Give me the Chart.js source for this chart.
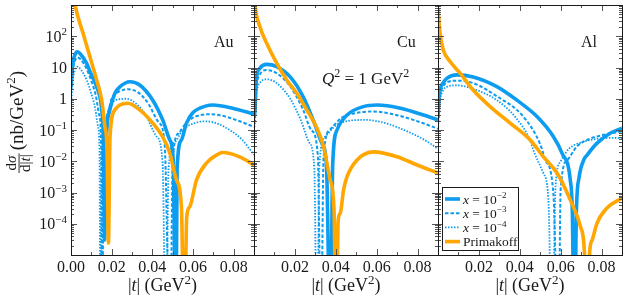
<!DOCTYPE html>
<html>
<head>
<meta charset="utf-8">
<script src="https://cdn.jsdelivr.net/npm/chart.js@4.4.1/dist/chart.umd.min.js"></script>
<style>
    html, body { margin: 0; padding: 0; background: #fff; }
    #wrap { position: relative; width: 625px; height: 302px; }
    #wrap canvas { position: absolute; left: 0; top: 0; }
</style>
</head>
<body>
<div id="wrap">
    <canvas id="panel0" width="625" height="302"></canvas>
    <canvas id="panel1" width="625" height="302"></canvas>
    <canvas id="panel2" width="625" height="302"></canvas>
</div>
<script>
const SERIF = '"Liberation Serif", "DejaVu Serif", serif';
const AZUL = '#0c9cf0';
const NARANJA = '#ffa600';

// Ejes y etiquetas
const yTickValues = [1e-4, 1e-3, 1e-2, 1e-1, 1, 10, 100];
const yTickLabels = ['10^{−4}', '10^{−3}', '10^{−2}', '10^{−1}', '1', '10', '10^{2}'];
const xTicksFirst = [0, 0.02, 0.04, 0.06, 0.08];
const xTicksRest = [0.02, 0.04, 0.06, 0.08];
const panelNames = ['Au', 'Cu', 'Al'];
const seriesLabels = ['$x$ = 10^{−2}', '$x$ = 10^{−3}', '$x$ = 10^{−4}', 'Primakoff'];

// Au: pares [|t|, dσ/d|t|]
const auX2 = [[0, 2.4], [0.0005, 7], [0.001, 15], [0.002, 26], [0.003, 32], [0.0044, 28], [0.0077, 13.5], [0.0098, 6.3], [0.0126, 2.4], [0.0151, 0.44], [0.0159, 0.05], [0.0165, 3e-5], [0.0172, 0.03], [0.0191, 0.44], [0.0216, 1.5], [0.024, 2.4], [0.029, 3.5], [0.0338, 2.75], [0.0402, 0.9], [0.0451, 0.21], [0.0486, 0.048], [0.0503, 0.01], [0.0515, 1e-8], [0.0522, 0.006], [0.0543, 0.048], [0.0568, 0.166], [0.0598, 0.35], [0.0666, 0.59], [0.0697, 0.63], [0.0795, 0.5], [0.09, 0.32]];
const auX3 = [[0, 1.4], [0.0005, 4], [0.001, 9], [0.002, 16.6], [0.003, 21], [0.0044, 19], [0.0077, 9], [0.0098, 4], [0.0122, 1.26], [0.0138, 0.32], [0.0148, 0.04], [0.0154, 1e-8], [0.016, 0.025], [0.0175, 0.25], [0.02, 1.0], [0.023, 1.6], [0.028, 2.0], [0.033, 1.6], [0.038, 0.7], [0.043, 0.18], [0.046, 0.04], [0.0488, 1e-8], [0.05, 0.01], [0.053, 0.08], [0.057, 0.18], [0.062, 0.28], [0.068, 0.32], [0.075, 0.28], [0.082, 0.2], [0.09, 0.126]];
const auX4 = [[0, 0.63], [0.0005, 2], [0.001, 4.5], [0.002, 8.5], [0.003, 10.7], [0.0044, 9.3], [0.0077, 4], [0.0098, 1.6], [0.012, 0.45], [0.0133, 0.126], [0.014, 0.025], [0.0145, 1e-8], [0.0152, 0.02], [0.0168, 0.2], [0.019, 0.56], [0.022, 0.9], [0.027, 1.0], [0.032, 0.7], [0.037, 0.28], [0.042, 0.063], [0.045, 0.01], [0.0467, 1e-8], [0.048, 0.0063], [0.051, 0.04], [0.055, 0.1], [0.06, 0.16], [0.066, 0.19], [0.072, 0.16], [0.078, 0.1], [0.084, 0.05], [0.09, 0.016]];
const auPrim = [[0, 8000], [0.002, 1000], [0.0059, 126], [0.0093, 22], [0.0126, 4], [0.0151, 0.9], [0.0167, 0.126], [0.0177, 0.025], [0.0184, 2.4e-5], [0.0192, 0.063], [0.0216, 0.44], [0.024, 0.63], [0.028, 0.72], [0.0338, 0.44], [0.0402, 0.166], [0.0451, 0.06], [0.0486, 0.018], [0.0519, 0.0025], [0.0543, 3.5e-4], [0.0557, 1e-8], [0.0569, 1.6e-4], [0.0584, 3.5e-4], [0.0617, 0.0025], [0.0666, 0.0087], [0.0731, 0.018], [0.0746, 0.019], [0.0829, 0.0138], [0.09, 0.0076]];

// Cu
const cuX2 = [[0, 0.25], [0.0005, 0.44], [0.0009, 2.2], [0.0013, 5], [0.0029, 9.5], [0.0062, 12.6], [0.0111, 10.7], [0.0177, 5], [0.024, 1.17], [0.0289, 0.21], [0.0332, 0.038], [0.0355, 0.006], [0.0373, 1e-8], [0.0385, 0.008], [0.0406, 0.1], [0.0455, 0.3], [0.0535, 0.56], [0.0602, 0.63], [0.0716, 0.5], [0.0829, 0.3], [0.09, 0.21]];
const cuX3 = [[0, 0.16], [0.0005, 0.3], [0.0009, 1.3], [0.0013, 2.8], [0.0029, 6], [0.0062, 8.3], [0.011, 6.6], [0.0177, 2.5], [0.024, 0.45], [0.028, 0.1], [0.0312, 0.016], [0.0328, 1e-8], [0.034, 0.012], [0.037, 0.1], [0.043, 0.25], [0.05, 0.35], [0.058, 0.39], [0.068, 0.32], [0.079, 0.2], [0.09, 0.11]];
const cuX4 = [[0, 0.1], [0.0005, 0.2], [0.0009, 0.7], [0.0013, 1.6], [0.0029, 3.2], [0.0062, 4.2], [0.011, 3.2], [0.0177, 1.0], [0.023, 0.2], [0.027, 0.04], [0.0295, 0.006], [0.0308, 1e-8], [0.032, 0.008], [0.035, 0.063], [0.04, 0.14], [0.047, 0.2], [0.055, 0.21], [0.065, 0.16], [0.075, 0.09], [0.083, 0.05], [0.09, 0.025]];
const cuPrim = [[0, 3000], [0.0005, 1000], [0.0029, 200], [0.0062, 60], [0.0111, 13.8], [0.016, 4], [0.0209, 1.5], [0.0258, 0.44], [0.0308, 0.115], [0.034, 0.03], [0.0373, 0.0025], [0.0392, 2.2e-4], [0.0401, 1e-8], [0.0412, 1.3e-4], [0.0422, 2.2e-4], [0.0438, 0.0012], [0.0455, 0.0032], [0.0504, 0.011], [0.0584, 0.02], [0.07, 0.014], [0.0798, 0.0076], [0.09, 0.0042]];

// Al
const alX2 = [[0, 0.25], [0.0004, 0.8], [0.001, 1.9], [0.0025, 3.2], [0.0043, 4.5], [0.0092, 5.8], [0.0172, 5], [0.0288, 2.45], [0.0386, 0.9], [0.0484, 0.27], [0.0564, 0.062], [0.0607, 0.018], [0.0647, 0.0025], [0.0657, 2.5e-4], [0.0667, 1e-8], [0.0677, 2.5e-4], [0.069, 0.003], [0.0713, 0.011], [0.073, 0.016], [0.0778, 0.038], [0.0844, 0.08], [0.09, 0.115]];
const alX3 = [[0, 0.16], [0.0004, 0.5], [0.001, 1.26], [0.0025, 2.5], [0.0043, 3.3], [0.0092, 3.8], [0.017, 3.2], [0.0288, 1.2], [0.0417, 0.27], [0.05, 0.035], [0.0525, 0.011], [0.0564, 0.001], [0.0589, 1e-8], [0.06, 0.00126], [0.0633, 0.011], [0.068, 0.03], [0.0729, 0.048], [0.0809, 0.07], [0.09, 0.09]];
const alX4 = [[0, 0.1], [0.0004, 0.35], [0.001, 0.9], [0.0025, 1.86], [0.0043, 2.4], [0.0092, 2.7], [0.017, 2.1], [0.0288, 0.9], [0.038, 0.25], [0.045, 0.048], [0.0466, 0.023], [0.0515, 0.0042], [0.054, 6e-4], [0.0558, 1e-8], [0.0575, 0.0016], [0.06, 0.01], [0.064, 0.025], [0.07, 0.04], [0.078, 0.052], [0.085, 0.056], [0.09, 0.054]];
const alPrim = [[0, 800], [0.001, 126], [0.0026, 36], [0.0059, 15.5], [0.0108, 6.6], [0.0172, 1.9], [0.0255, 0.56], [0.0353, 0.166], [0.0451, 0.048], [0.0515, 0.014], [0.0582, 0.0042], [0.0647, 5.8e-4], [0.0697, 8e-5], [0.0716, 1.3e-5], [0.0729, 1e-8], [0.0742, 1.3e-5], [0.0754, 3e-5], [0.0778, 1.05e-4], [0.0827, 3.2e-4], [0.09, 6.6e-4]];

const panelData = [
    [auX2, auX3, auX4, auPrim],
    [cuX2, cuX3, cuX4, cuPrim],
    [alX2, alX3, alX4, alPrim]
];

// Geometría de los paneles (px)
const panelLeft = [71, 254, 438];
const panelRight = [254, 438, 622];

const estilos = [
    { borderColor: AZUL, borderWidth: 3.6, borderDash: [], order: 1 },
    { borderColor: AZUL, borderWidth: 2, borderDash: [3.5, 2], order: 2 },
    { borderColor: AZUL, borderWidth: 1.8, borderDash: [1.5, 1.5], order: 3 },
    { borderColor: NARANJA, borderWidth: 3.6, borderDash: [], order: 0 }
];

// Texto con $cursiva$ y ^{superíndice}
function partesTexto(str) {
    const partes = [];
    let italica = false, buf = '', i = 0;
    const push = (sup) => { if (buf) partes.push({ t: buf, it: italica, sup: sup }); buf = ''; };
    while (i < str.length) {
        const c = str[i];
        if (c === '$') { push(false); italica = !italica; i++; }
        else if (c === '^' && str[i + 1] === '{') {
            push(false);
            const fin = str.indexOf('}', i);
            buf = str.slice(i + 2, fin);
            push(true);
            i = fin + 1;
        } else { buf += c; i++; }
    }
    push(false);
    return partes;
}

function dibujarTexto(ctx, str, x, y, size, align) {
    const partes = partesTexto(str);
    const fuente = p => `${p.it ? 'italic ' : ''}${p.sup ? Math.round(size * 0.7) : size}px ${SERIF}`;
    let w = 0;
    partes.forEach(p => { ctx.font = fuente(p); p.w = ctx.measureText(p.t).width; w += p.w; });
    let cx = align === 'center' ? x - w / 2 : (align === 'right' ? x - w : x);
    ctx.textAlign = 'left';
    ctx.textBaseline = 'alphabetic';
    partes.forEach(p => {
        ctx.font = fuente(p);
        ctx.fillText(p.t, cx, p.sup ? y - size * 0.4 : y);
        cx += p.w;
    });
    return w;
}

function anchoTexto(ctx, str, size) {
    let w = 0;
    partesTexto(str).forEach(p => {
        ctx.font = `${p.it ? 'italic ' : ''}${p.sup ? Math.round(size * 0.7) : size}px ${SERIF}`;
        w += ctx.measureText(p.t).width;
    });
    return w;
}

// Marco, ticks hacia dentro y textos
const marcoPanel = {
    id: 'marcoPanel',
    afterDatasetsDraw(chart, args, opts) {
        const { ctx, chartArea: a } = chart;
        const x = chart.scales.x, y = chart.scales.y;
        ctx.save();
        ctx.strokeStyle = '#555';
        ctx.lineWidth = 1;
        ctx.beginPath();
        for (let e = -5; e <= 2; e++) {
            for (let m = 1; m <= 9; m++) {
                const py = Math.round(y.getPixelForValue(m * Math.pow(10, e))) + 0.5;
                const len = m === 1 ? 6 : 3;
                ctx.moveTo(a.left, py); ctx.lineTo(a.left + len, py);
                ctx.moveTo(a.right - len, py); ctx.lineTo(a.right, py);
            }
        }
        for (let k = 1; k < 9; k++) {
            const px = Math.round(x.getPixelForValue(k / 100)) + 0.5;
            const len = k % 2 === 0 ? 6 : 3;
            ctx.moveTo(px, a.bottom); ctx.lineTo(px, a.bottom - len);
            ctx.moveTo(px, a.top); ctx.lineTo(px, a.top + len);
        }
        ctx.stroke();
        ctx.strokeStyle = '#1a1a1a';
        ctx.strokeRect(Math.round(a.left) + 0.5, Math.round(a.top) + 0.5,
            Math.round(a.right - a.left), Math.round(a.bottom - a.top));

        ctx.fillStyle = '#1a1a1a';
        const i = opts.panel;
        dibujarTexto(ctx, panelNames[i], a.left + 143, 47, 16, 'left');
        dibujarTexto(ctx, '|$t$| (GeV^{2})', (a.left + a.right) / 2, 291, 18, 'center');

        if (i === 0) {
            yTickValues.forEach((v, k) => {
                dibujarTexto(ctx, yTickLabels[k], a.left - 4, y.getPixelForValue(v) + 5.5, 16, 'right');
            });
            // título eje y (girado)
            ctx.save();
            ctx.translate(18, 122);
            ctx.rotate(-Math.PI / 2);
            const num = 'd$σ$', den = 'd|$t$|', uni = '(nb/GeV^{2})';
            const wf = Math.max(anchoTexto(ctx, num, 15), anchoTexto(ctx, den, 15)) + 2;
            const wu = anchoTexto(ctx, uni, 19);
            const u0 = -(wf + 3 + wu) / 2;
            dibujarTexto(ctx, num, u0 + wf / 2, -2.5, 15, 'center');
            dibujarTexto(ctx, den, u0 + wf / 2, 12, 15, 'center');
            ctx.fillRect(u0, 0.6, wf, 0.9);
            dibujarTexto(ctx, uni, u0 + wf + 3, 5, 19, 'left');
            ctx.restore();
        }
        if (i === 1) {
            dibujarTexto(ctx, '$Q$^{2} = 1 GeV^{2}', 322, 83.5, 17, 'left');
        }
        if (i === 2) {
            // leyenda
            const bx = a.left + 4, by = 187, bw = 76, bh = 63;
            ctx.fillStyle = '#fff';
            ctx.fillRect(bx, by, bw, bh);
            ctx.strokeStyle = '#1a1a1a';
            ctx.strokeRect(bx + 0.5, by + 0.5, bw, bh);
            chart.data.datasets.forEach((ds, k) => {
                const cy = 199 + k * 14.2;
                ctx.save();
                ctx.strokeStyle = ds.borderColor;
                ctx.lineWidth = ds.borderWidth;
                ctx.setLineDash(ds.borderDash);
                ctx.beginPath();
                ctx.moveTo(bx + 3, cy);
                ctx.lineTo(bx + 18, cy);
                ctx.stroke();
                ctx.restore();
                ctx.fillStyle = '#1a1a1a';
                dibujarTexto(ctx, seriesLabels[k], bx + 21, cy + 4.5, 13.5, 'left');
            });
        }
        ctx.restore();
    }
};

function crearPanel(i) {
    const ctx = document.getElementById('panel' + i);
    return new Chart(ctx, {
        type: 'line',
        data: {
            datasets: panelData[i].map((serie, k) => ({
                label: seriesLabels[k],
                data: serie.map(p => ({ x: p[0], y: p[1] })),
                borderColor: estilos[k].borderColor,
                borderWidth: estilos[k].borderWidth,
                borderDash: estilos[k].borderDash,
                order: estilos[k].order,
                pointRadius: 0,
                fill: false,
                cubicInterpolationMode: 'monotone',
                clip: 0
            }))
        },
        options: {
            responsive: false,
            animation: false,
            devicePixelRatio: 1,
            events: [],
            layout: {
                padding: { left: i === 0 ? 0 : panelLeft[i], right: 625 - panelRight[i], top: 5, bottom: 0 }
            },
            plugins: {
                legend: { display: false },
                tooltip: { enabled: false },
                marcoPanel: { panel: i }
            },
            scales: {
                x: {
                    type: 'linear', min: 0, max: 0.09,
                    afterBuildTicks: s => { s.ticks = (i === 0 ? xTicksFirst : xTicksRest).map(v => ({ value: v })); },
                    afterFit: s => { s.height = 47; },
                    grid: { display: false, drawTicks: false },
                    border: { display: false },
                    ticks: {
                        padding: 3, color: '#1a1a1a', maxRotation: 0, autoSkip: false,
                        font: { family: SERIF, size: 16 },
                        callback: v => v.toFixed(2)
                    }
                },
                y: {
                    type: 'logarithmic', min: 1e-5, max: 1e3,
                    afterBuildTicks: s => { s.ticks = yTickValues.map(v => ({ value: v })); },
                    afterFit: s => { s.width = i === 0 ? 71 : 0; },
                    grid: { display: false, drawTicks: false },
                    border: { display: false },
                    ticks: { display: false }
                }
            }
        },
        plugins: [marcoPanel]
    });
}

[0, 1, 2].forEach(crearPanel);
</script>
</body>
</html>
